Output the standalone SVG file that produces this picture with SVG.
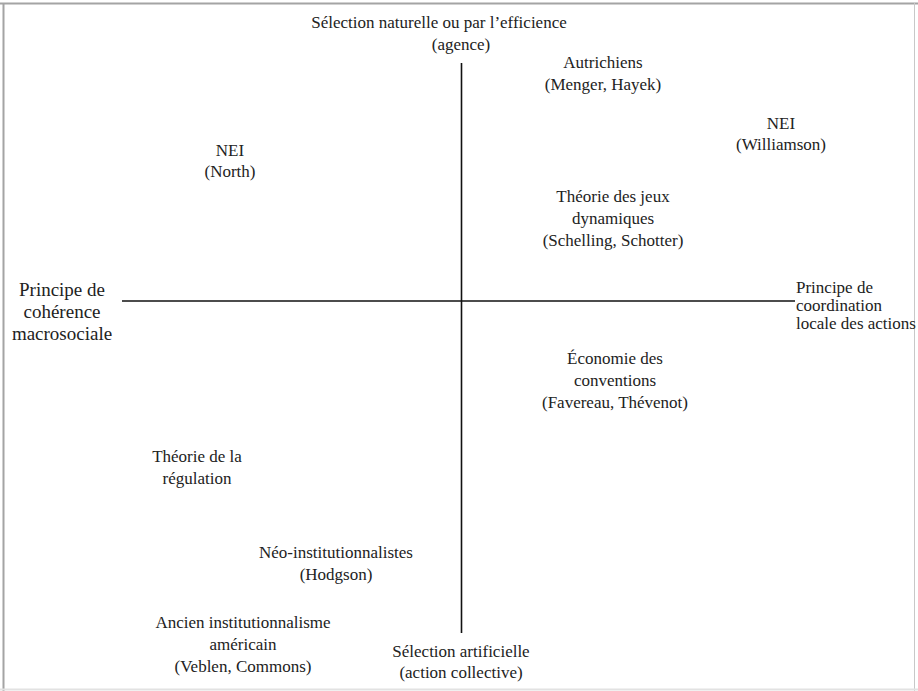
<svg xmlns="http://www.w3.org/2000/svg" width="918" height="691" viewBox="0 0 918 691">
<style>
.t{font-family:'Liberation Serif','DejaVu Serif',serif;font-size:17px;fill:#222;text-anchor:middle}
.lg{font-size:19px}
.sm{font-size:17px;text-anchor:start}
.ax{stroke:#111;stroke-width:1.6;fill:none}
</style>
<rect x="0" y="0" width="918" height="691" fill="#fff"/>
<g id="frame">
<line x1="0" y1="3.5" x2="918" y2="3.5" stroke="#a4a4a4" stroke-width="2"/>
<line x1="3.5" y1="3" x2="3.5" y2="691" stroke="#a4a4a4" stroke-width="2"/>
<line x1="914.5" y1="3" x2="914.5" y2="691" stroke="#c8c8c8" stroke-width="1"/>
<line x1="0" y1="689.5" x2="918" y2="689.5" stroke="#e2e2e2" stroke-width="2"/>
</g>
<g id="connectors">
<line class="ax" x1="461.5" y1="63" x2="461.5" y2="633"/>
<line class="ax" x1="122" y1="301" x2="795" y2="301"/>
</g>
<g class="t" font-family="Liberation Serif, serif">
<g id="top"><text x="439" y="28">Sélection naturelle ou par l’efficience</text><text x="461" y="50">(agence)</text></g>
<g id="autrichiens"><text x="603" y="68">Autrichiens</text><text x="603" y="90">(Menger, Hayek)</text></g>
<g id="nei-williamson"><text x="781" y="129">NEI</text><text x="781" y="150">(Williamson)</text></g>
<g id="nei-north"><text x="230" y="156">NEI</text><text x="230" y="177">(North)</text></g>
<g id="jeux"><text x="613" y="202">Théorie des jeux</text><text x="613" y="224">dynamiques</text><text x="613" y="246">(Schelling, Schotter)</text></g>
<g id="left" class="lg"><text x="62" y="296">Principe de</text><text x="62" y="318">cohérence</text><text x="62" y="340">macrosociale</text></g>
<g id="right"><text class="sm" x="796" y="293">Principe de</text><text class="sm" x="796" y="311">coordination</text><text class="sm" x="796" y="329">locale des actions</text></g>
<g id="conventions"><text x="615" y="364">Économie des</text><text x="615" y="386">conventions</text><text x="615" y="408">(Favereau, Thévenot)</text></g>
<g id="regulation"><text x="197" y="462">Théorie de la</text><text x="197" y="484">régulation</text></g>
<g id="neo"><text x="336" y="558">Néo-institutionnalistes</text><text x="336" y="580">(Hodgson)</text></g>
<g id="ancien"><text x="243" y="628">Ancien institutionnalisme</text><text x="243" y="650">américain</text><text x="243" y="672">(Veblen, Commons)</text></g>
<g id="bottom"><text x="461" y="657">Sélection artificielle</text><text x="461" y="678">(action collective)</text></g>
</g>
</svg>
